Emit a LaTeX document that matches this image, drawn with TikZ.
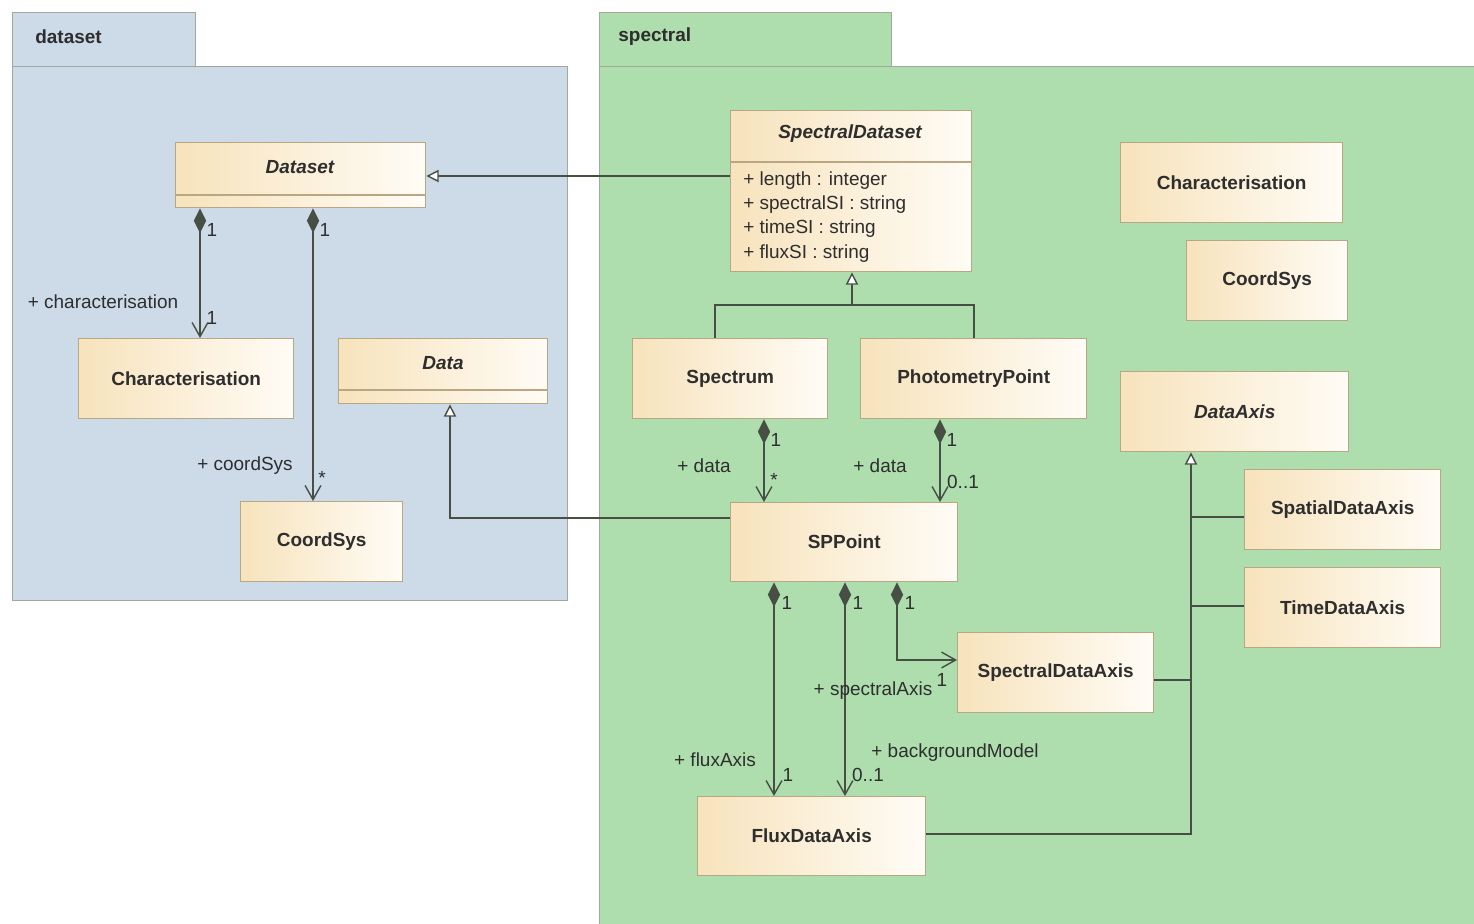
\documentclass[tikz,border=0pt]{standalone}
\usepackage{fontspec}
\setmainfont{Liberation Sans}
\usetikzlibrary{arrows.meta}
\definecolor{dsfill}{HTML}{CDDAE7}
\definecolor{spfill}{HTML}{AFDEAE}
\definecolor{pkgline}{HTML}{A3A89C}
\definecolor{clsL}{HTML}{F7E3BC}
\definecolor{clsR}{HTML}{FFFCF6}
\definecolor{clsline}{HTML}{B9A783}
\definecolor{conncol}{HTML}{474F45}
\definecolor{txt}{HTML}{2E2E2E}
\tikzset{
  sz/.style 2 args={minimum width=#1*0.02cm, minimum height=#2*0.02cm},
  cls/.style={draw=clsline, line width=0.8pt, left color=clsL, right color=clsR, anchor=north west, inner sep=0pt, font=\fontsize{10.8}{13}\selectfont\bfseries, text=txt},
  clsname/.style={inner sep=0pt, font=\fontsize{10.8}{13}\selectfont\bfseries\itshape, text=txt},
  attr/.style={anchor=west, inner sep=0pt, font=\fontsize{10.8}{13}\selectfont, text=txt},
  pkg/.style={draw=pkgline, line width=0.8pt, anchor=north west, inner sep=0pt},
  pkglabel/.style={anchor=west, inner sep=0pt, font=\fontsize{10.8}{13}\selectfont\bfseries, text=txt},
  conn/.style={draw=conncol, line width=0.8pt},
  gen/.style={conn, -{Triangle[open, length=7pt, width=7pt, fill=white]}},
  comp/.style={conn, {Diamond[length=14pt, width=7pt]}-{Straight Barb[length=8pt, width=9pt]}},
  divider/.style={draw=clsline, line width=0.8pt},
  lbl/.style={font=\fontsize{10.8}{13}\selectfont, text=txt, inner sep=0pt},
}
\begin{document}
\begin{tikzpicture}[x=0.02cm, y=-0.02cm]
\useasboundingbox (0,0) rectangle (1474,923);
% packages
\node[pkg, fill=dsfill, sz={183}{54}] (dstab) at (12,12) {};
\node[pkg, fill=dsfill, sz={555}{534}] (dsbody) at (12,66) {};
\node[pkglabel] (dslabel) at (35,37) {dataset};
\node[pkg, fill=spfill, sz={292}{54}] (sptab) at (599,12) {};
\node[pkg, fill=spfill, sz={885}{870}] (spbody) at (599,66) {};
\node[pkglabel] (splabel) at (618,37) {spectral};
% dataset classes
\node[cls, sz={250}{65}] (Dataset) at (175,142) {};
\node[clsname] (DatasetN) at (300,167) {Dataset};
\draw[divider] (Dataset.west |- 0,195) -- (Dataset.east |- 0,195);
\node[cls, sz={215}{80}] (Char1) at (78,338) {Characterisation};
\node[cls, sz={209}{65}] (Data) at (338,338) {};
\node[clsname] (DataN) at (443,363) {Data};
\draw[divider] (Data.west |- 0,390) -- (Data.east |- 0,390);
\node[cls, sz={162}{80}] (Coord1) at (240,501) {CoordSys};
% spectral classes
\node[cls, sz={241}{161}] (SD) at (730,110) {};
\node[clsname] (SDN) at (850,134) {SpectralDataset};
\draw[divider] (SD.west |- 0,162) -- (SD.east |- 0,162);
\node[attr] (a1) at (743,181) {+ length : integer};
\node[attr] (a2) at (743,205) {+ spectralSI : string};
\node[attr] (a3) at (743,229) {+ timeSI : string};
\node[attr] (a4) at (743,254) {+ fluxSI : string};
\node[cls, sz={222}{80}] (Char2) at (1120,142) {Characterisation};
\node[cls, sz={161}{80}] (Coord2) at (1186,240) {CoordSys};
\node[cls, sz={195}{80}] (Spectrum) at (632,338) {Spectrum};
\node[cls, sz={226}{80}] (Photo) at (860,338) {PhotometryPoint};
\node[cls, sz={228}{80}, font=\fontsize{10.8}{13}\selectfont\bfseries\itshape] (DataAxis) at (1120,371) {DataAxis};
\node[cls, sz={196}{80}] (Spatial) at (1244,469) {SpatialDataAxis};
\node[cls, sz={196}{80}] (Time) at (1244,567) {TimeDataAxis};
\node[cls, sz={227}{79}] (SPPoint) at (730,502) {SPPoint};
\node[cls, sz={196}{80}] (SpecAxis) at (957,632) {SpectralDataAxis};
\node[cls, sz={228}{79}] (Flux) at (697,796) {FluxDataAxis};
% generalizations
\draw[gen] (SD.west |- 0,176) -- (Dataset.east |- 0,176);
\coordinate (genj) at (852,305);
\draw[conn] (Spectrum.north -| 715,0) |- (genj);
\draw[conn] (Photo.north -| 974,0) |- (genj);
\draw[gen] (genj) -- (SD.south -| genj);
\draw[gen] (SPPoint.west |- 0,518) -| (Data.south -| 450,0);
\coordinate (dtrunk) at (1191,451);
\draw[gen] (Flux.east |- 0,834) -| (DataAxis.south -| dtrunk);
\draw[conn] (Spatial.west |- 0,517) -- (dtrunk |- 0,517);
\draw[conn] (Time.west |- 0,606) -- (dtrunk |- 0,606);
\draw[conn] (SpecAxis.east |- 0,680) -- (dtrunk |- 0,680);
% compositions
\draw[comp] (Dataset.south -| 200,0) -- (Char1.north -| 200,0);
\draw[comp] (Dataset.south -| 313,0) -- (Coord1.north -| 313,0);
\draw[comp] (Spectrum.south -| 764,0) -- (SPPoint.north -| 764,0);
\draw[comp] (Photo.south -| 940,0) -- (SPPoint.north -| 940,0);
\draw[comp] (SPPoint.south -| 774,0) -- (Flux.north -| 774,0);
\draw[comp] (SPPoint.south -| 845,0) -- (Flux.north -| 845,0);
\draw[comp] (SPPoint.south -| 897,0) |- (SpecAxis.west |- 0,660);
% labels
\node[lbl] (l1) at (212,230) {1};
\node[lbl] (l2) at (103,302) {+ characterisation};
\node[lbl] (l3) at (212,318) {1};
\node[lbl] (l4) at (325,230) {1};
\node[lbl] (l5) at (245,466) {+ coordSys};
\node[lbl] (l6) at (322,478) {*};
\node[lbl] (l7) at (776,440) {1};
\node[lbl] (l8) at (704,466) {+ data};
\node[lbl] (l9) at (774,480) {*};
\node[lbl] (l10) at (952,440) {1};
\node[lbl] (l11) at (880,466) {+ data};
\node[lbl] (l12) at (963,482) {0..1};
\node[lbl] (l13) at (787,603) {1};
\node[lbl] (l14) at (858,603) {1};
\node[lbl] (l15) at (910,603) {1};
\node[lbl] (l16) at (873,691) {+ spectralAxis};
\node[lbl] (l17) at (942,680) {1};
\node[lbl] (l18) at (715,760) {+ fluxAxis};
\node[lbl] (l19) at (788,775) {1};
\node[lbl] (l20) at (955,753) {+ backgroundModel};
\node[lbl] (l21) at (868,775) {0..1};
\end{tikzpicture}
\end{document}
